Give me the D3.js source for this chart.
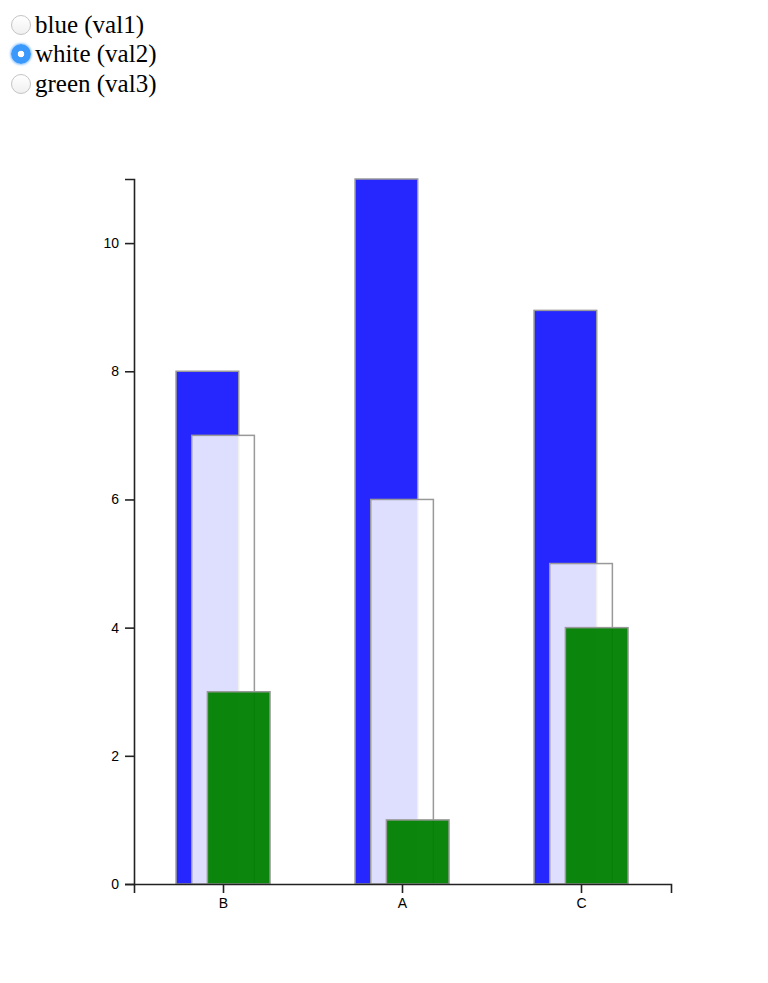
<!DOCTYPE html>
<html>
<head>
<meta charset="utf-8">
<script src="https://cdn.jsdelivr.net/npm/d3@7"></script>
<style>
  html, body { margin: 0; padding: 0; background: #fff; }
  #controls { position: absolute; left: 11px; top: 10px; font-family: "Liberation Serif", "Times New Roman", serif; font-size: 25px; color: #000; }
  #controls label { display: flex; align-items: center; height: 29.5px; }
  #controls input { appearance: none; -webkit-appearance: none; margin: 0 4px 0 0; width: 20px; height: 20px; border-radius: 50%;
    border: 1px solid #c4c4c4; background: linear-gradient(#fff, #f0f0f0); box-sizing: border-box; }
  #controls input:checked { border: none; background: radial-gradient(circle, #fff 0 3px, #3b99fc 3.6px 100%); box-shadow: 0 0 2px 1px rgba(59,153,252,0.5); }
  svg { position: absolute; left: 0; top: 0; }
  .axis text { font-family: "Liberation Sans", Arial, Helvetica, sans-serif; font-size: 14px; fill: #000; }
  .axis path, .axis line { stroke: #222; stroke-width: 1.6; }
</style>
</head>
<body>
<div id="controls"></div>
<svg id="chart" width="768" height="983"></svg>
<script>
const categories = ["B", "A", "C"];
const val1 = [8, 11, 8.95];   // blue
const val2 = [7, 6, 5];       // white
const val3 = [3, 1, 4];       // green
const options = ["blue (val1)", "white (val2)", "green (val3)"];
const checkedOption = 1;

const ctrl = d3.select("#controls");
options.forEach((t, i) => {
  const lab = ctrl.append("label");
  lab.append("input").attr("type", "radio").attr("name", "mode").property("checked", i === checkedOption);
  lab.append("span").text(t);
});

const svg = d3.select("#chart");
const x = d3.scaleBand().domain(categories).range([134, 671]).padding(0);
const y = d3.scaleLinear().domain([0, d3.max(val1)]).range([884, 179]);
const bw = x.bandwidth();
const barW = bw * 0.35;

const series = [
  { vals: val1, fill: "blue", op: 0.85, off: 0.235 },
  { vals: val2, fill: "white", op: 0.85, off: 0.3225 },
  { vals: val3, fill: "green", op: 0.95, off: 0.41 }
];

series.forEach(s => {
  svg.append("g").selectAll("rect")
    .data(categories.map((c, i) => ({ c, v: s.vals[i] })))
    .join("rect")
    .attr("x", d => x(d.c) + bw * s.off)
    .attr("y", d => y(d.v))
    .attr("width", barW)
    .attr("height", d => y(0) - y(d.v))
    .attr("fill", s.fill)
    .attr("fill-opacity", s.op)
    .attr("stroke", "#999")
    .attr("stroke-width", 1.5);
});

svg.append("g").attr("class", "axis")
  .attr("transform", "translate(0,884)")
  .call(d3.axisBottom(x).tickSize(9).tickSizeOuter(9).tickPadding(5));

svg.append("g").attr("class", "axis")
  .attr("transform", "translate(134,0)")
  .call(d3.axisLeft(y).ticks(6).tickSize(9).tickSizeOuter(9).tickPadding(6));
</script>
</body>
</html>
